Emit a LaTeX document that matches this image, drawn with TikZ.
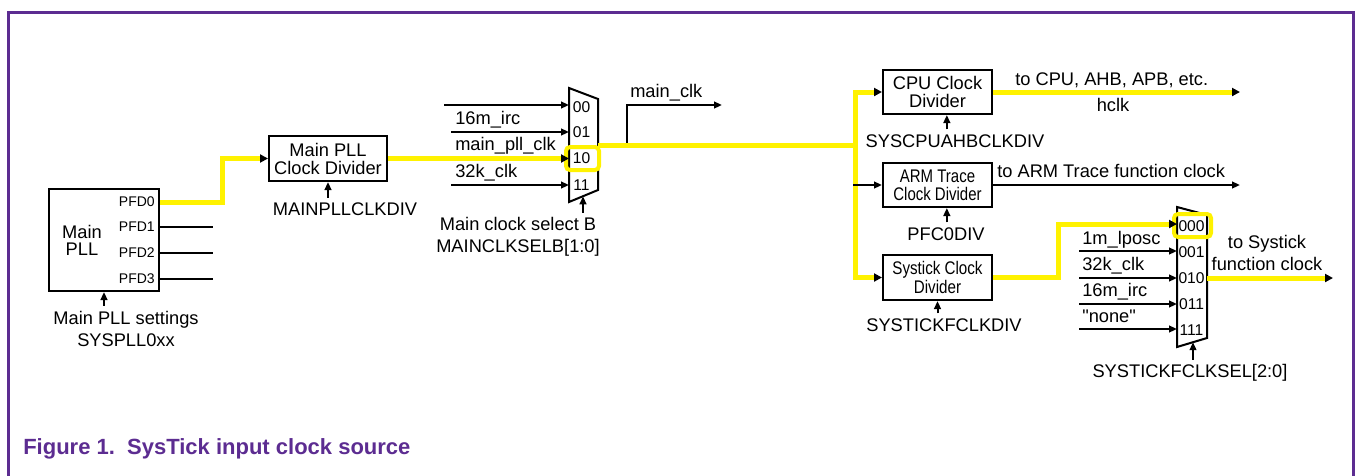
\documentclass[tikz,border=0pt]{standalone}
\usepackage{fontspec}
\setmainfont{Liberation Sans}[Ligatures=TeXOff]
\usetikzlibrary{arrows.meta}
\definecolor{nxppurple}{RGB}{92,44,145}
\definecolor{hl}{RGB}{255,242,0}
\begin{document}
\begin{tikzpicture}[x=0.75pt,y=-0.75pt,
  font=\fontsize{13.7}{14}\selectfont,
  blk/.style={draw=black,line width=1.5pt,align=center,inner sep=0pt},
  wire/.style={line width=1.5pt,-{Triangle[length=6pt,width=5pt]}},
  plainw/.style={line width=1.5pt},
  ywire/.style={line width=3.75pt,draw=hl,-{Triangle[length=6pt,width=6pt,color=black]}},
  yplain/.style={line width=3.75pt,draw=hl},
  lbl/.style={inner sep=0pt,anchor=base},
  lbll/.style={inner sep=0pt,anchor=base west},
  small/.style={font=\fontsize{10.5}{12}\selectfont,inner sep=0pt},
  muxl/.style={font=\fontsize{11.7}{12}\selectfont,inner sep=0pt},
  hlbox/.style={draw=hl,line width=3pt,rounded corners=3pt},
  cond/.style={font=\fontsize{13.7}{13.5}\selectfont},
]
\useasboundingbox (0,0) rectangle (1355,475);
% frame
\draw[nxppurple,line width=2.25pt] (8,476) -- (8,12) -- (1353,12) -- (1353,476);

% ---------- Main PLL ----------
\node[blk,minimum width=82.5pt,minimum height=76.5pt] (pll) at (104,240) {};
\node[inner sep=0pt,align=center,font=\fontsize{13.7}{12.75}\selectfont] (plltxt) at (82,240) {Main\\PLL};
\node[small,anchor=east] (pfd0) at (155,202) {PFD0};
\node[small,anchor=east] (pfd1) at (155,227) {PFD1};
\node[small,anchor=east] (pfd2) at (155,253) {PFD2};
\node[small,anchor=east] (pfd3) at (155,279) {PFD3};
\coordinate (p1e) at (213,227);
\coordinate (p2e) at (213,253);
\coordinate (p3e) at (213,279);
\draw[plainw] (pll.east |- pfd1) -- (p1e);
\draw[plainw] (pll.east |- pfd2) -- (p2e);
\draw[plainw] (pll.east |- pfd3) -- (p3e);
\node[lbl] (pllset) at (126,324) {Main PLL settings};
\node[lbl] (pllset2) at (126,346) {SYSPLL0xx};
\draw[wire] ([yshift=3.5pt]pll.south |- pllset.north) -- (pll.south);

% ---------- Main PLL clock divider ----------
\node[blk,minimum width=88.5pt,minimum height=33.75pt,font=\fontsize{13.7}{13.5}\selectfont] (div) at (328,158.5) {Main PLL\\Clock Divider};
\node[lbl] (mpd) at (345,215) {MAINPLLCLKDIV};
\draw[wire] ([yshift=3pt]div.south |- mpd.north) -- (div.south);
\draw[ywire] (pll.east |- pfd0) -- ++(62,0) |- (div.west);

% ---------- Main clock mux ----------
\coordinate (m1tl) at (569,88);
\coordinate (m1tr) at (598,99);
\coordinate (m1br) at (598,190);
\coordinate (m1bl) at (569,202);
\draw[plainw,line join=miter] (m1tl) -- (m1tr) -- (m1br) -- (m1bl) -- cycle;
\coordinate (m1i0) at (569,105);
\coordinate (m1i1) at (569,132);
\coordinate (m1i2) at (569,158.5);
\coordinate (m1i3) at (569,185);
\coordinate (s00) at (444,105);
\coordinate (s01) at (451,132);
\coordinate (s11) at (451,185);
\node[muxl] (l00) at (581.5,107) {00};
\node[muxl] (l01) at (581.5,132) {01};
\node[muxl] (l10) at (581.5,158.5) {10};
\node[muxl] (l11) at (581.5,185) {11};
\draw[hlbox] (566,147) rectangle (599,170);
\draw[wire] (s00) -- (m1i0);
\draw[wire] (s01) -- (m1i1);
\draw[wire] (s11) -- (m1i3);
\draw[ywire] (div.east) -- (m1i2);
\node[lbll] (t16) at (455,124) {16m\_irc};
\node[lbll] (tmp) at (455,150) {main\_pll\_clk};
\node[lbll] (t32) at (455,177) {32k\_clk};
\node[lbl] (selb1) at (518,230) {Main clock select B};
\node[lbl] (selb2) at (518,252) {MAINCLKSELB[1:0]};
\coordinate (m1ctl) at (583,196.3);
\draw[wire] (m1ctl |- selb1.north) ++(0,-4) -- (m1ctl);

% main_clk branch
\coordinate (m1o) at (598,145);
\coordinate (bus) at (856.9,145);
\coordinate (mclk) at (722,105);
\draw[wire] (627,145) |- (mclk);
\node[lbll] (tmclk) at (630,97) {main\_clk};
\draw[yplain] (m1o) -- (bus);

% ---------- Dividers ----------
\node[blk,minimum width=81.75pt,minimum height=33pt] (cpu) at (937.5,92) {CPU Clock\\Divider};
\node[blk,minimum width=81.75pt,minimum height=33pt,cond] (arm) at (937.5,185) {\scalebox{0.82}[1]{ARM Trace}\\\scalebox{0.82}[1]{Clock Divider}};
\node[blk,minimum width=81.75pt,minimum height=33.75pt] (sys) at (937.5,277.5) {\scalebox{0.83}[1]{Systick Clock}\\\scalebox{0.83}[1]{Divider}};
\draw[ywire] (855,145) |- (cpu.west);
\draw[ywire] (855,145) |- (sys.west);
\draw[wire] (853,185) -- (arm.west);

% CPU
\coordinate (cpuout) at (1240,92);
\draw[ywire] (cpu.east) -- (cpuout);
\node[lbll] (tcpu) at (1015,85) {to CPU, AHB, APB, etc.};
\node[lbl] (thclk) at (1113,111) {hclk};
\node[lbl] (cpudiv) at (955,147) {SYSCPUAHBCLKDIV};
\draw[wire] ([xshift=7pt,yshift=3.5pt]cpu.south |- cpudiv.north) -- ([xshift=7pt]cpu.south);

% ARM
\coordinate (armout) at (1240,185);
\draw[wire] (arm.east) -- (armout);
\node[lbll] (tarm) at (997,177) {to ARM Trace function clock};
\node[lbl] (pfc) at (946,240) {PFC0DIV};
\draw[wire] ([xshift=7pt,yshift=3.5pt]arm.south |- pfc.north) -- ([xshift=7pt]arm.south);

% Systick divider
\node[lbl] (sysdiv) at (944,331) {SYSTICKFCLKDIV};
\draw[wire] ([yshift=3.5pt]sys.south |- sysdiv.north) -- (sys.south);

% ---------- Systick mux ----------
\coordinate (m2tl) at (1177,207);
\coordinate (m2tr) at (1207,215);
\coordinate (m2br) at (1207,338);
\coordinate (m2bl) at (1177,347);
\draw[plainw,line join=miter] (m2tl) -- (m2tr) -- (m2br) -- (m2bl) -- cycle;
\node[muxl] (k000) at (1191.5,226) {000};
\node[muxl] (k001) at (1191.5,252) {001};
\node[muxl] (k010) at (1191.5,278) {010};
\node[muxl] (k011) at (1191.5,304) {011};
\node[muxl] (k111) at (1191.5,330) {111};
\draw[hlbox] (1174,214) rectangle (1211,237);
\coordinate (m2i0) at (1177,224);
\coordinate (m2i1) at (1177,251);
\coordinate (m2i2) at (1177,278);
\coordinate (m2i3) at (1177,304);
\coordinate (m2i4) at (1177,329);
\coordinate (q1) at (1079,251);
\coordinate (q2) at (1079,278);
\coordinate (q3) at (1079,304);
\coordinate (q4) at (1079,329);
\draw[wire] (q1) -- (m2i1);
\draw[wire] (q2) -- (m2i2);
\draw[wire] (q3) -- (m2i3);
\draw[wire] (q4) -- (m2i4);
\node[lbll] (u1) at (1082,244) {1m\_lposc};
\node[lbll] (u2) at (1082,270) {32k\_clk};
\node[lbll] (u3) at (1082,296) {16m\_irc};
\node[lbll] (u4) at (1082,322) {"none"};
\draw[ywire] (sys.east) -- (1058,277.5) |- (m2i0);
\coordinate (m2o) at (1207,278);
\coordinate (stout) at (1333,278);
\draw[ywire] (m2o) -- (stout);
\node[lbl] (tst1) at (1267,248) {to Systick};
\node[lbl] (tst2) at (1267,270) {function clock};
\node[lbl] (stsel) at (1190,377) {SYSTICKFCLKSEL[2:0]};
\coordinate (m2ctl) at (1193,342.2);
\draw[wire] (m2ctl |- stsel.north) ++(0,-4) -- (m2ctl);

% caption
\node[anchor=base west,inner sep=0pt,font=\fontsize{16.5}{18}\selectfont\bfseries,text=nxppurple] (cap) at (23,454) {Figure 1.\ \ SysTick input clock source};
\end{tikzpicture}
\end{document}
